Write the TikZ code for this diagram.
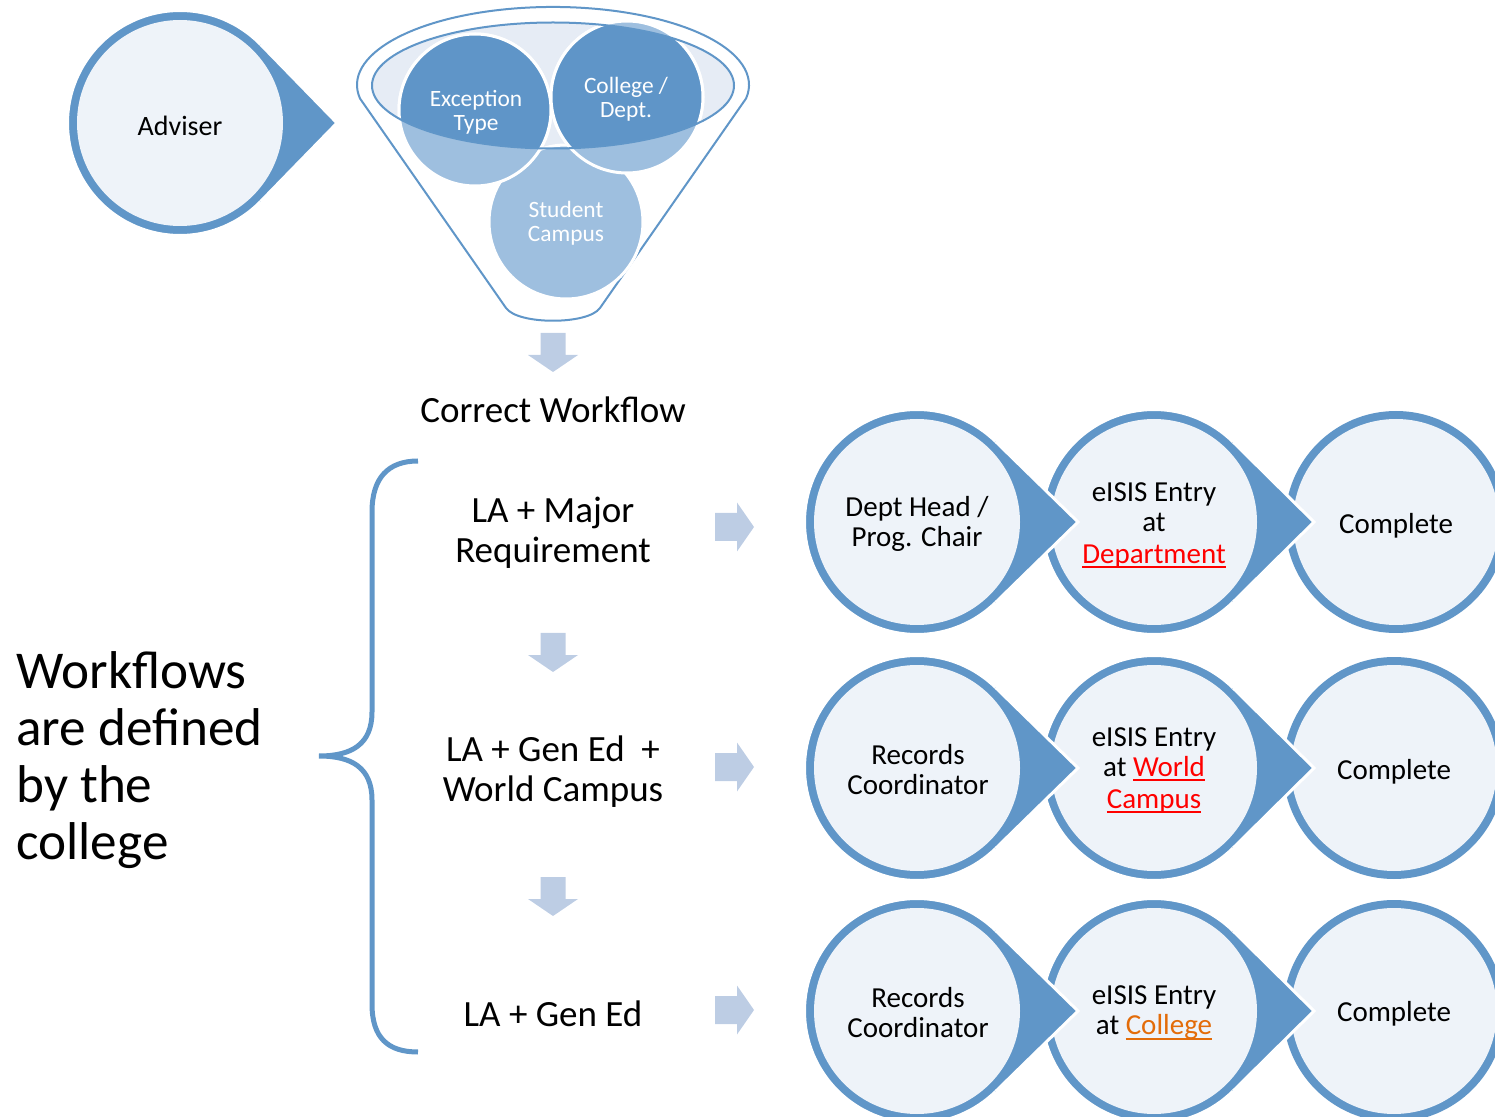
\documentclass[tikz,border=0pt]{standalone}
\usepackage{fontspec}
\setmainfont{Carlito}
\usetikzlibrary{calc}
\definecolor{ring}{HTML}{6096C8}
\definecolor{disc}{HTML}{EEF3F9}
\definecolor{arr}{HTML}{BDCDE4}
\definecolor{fdark}{HTML}{5F95C8}
\definecolor{flight}{HTML}{9EBFDF}
\definecolor{rimfill}{HTML}{E6ECF5}
\definecolor{wfred}{HTML}{FF0000}
\definecolor{wforange}{HTML}{E36C09}
\newcommand\myul[1]{\setbox0\hbox{#1}\rlap{\rule[-2.4pt]{\wd0}{1.1pt}}\box0}
\newcommand\tdrop[4]{%
  \pgfmathsetmacro\tdd{#4-#2}%
  \pgfmathsetmacro\tda{acos(112.5/\tdd)}%
  \coordinate (#1c) at (#2,#3);
  \coordinate (#1t) at (#4,#3);
  \coordinate (#1p) at ($(#1c)+(\tda:112.5)$);
  \coordinate (#1q) at ($(#1c)+(-\tda:112.5)$);
  \fill[ring, draw=white, line width=1.5pt] (#1c) circle[radius=56.25pt];
  \fill[ring] (#1p) -- (#1t) -- (#1q) -- (#1c) -- cycle;
  \draw[white,line width=1.5pt,line join=miter] (#1p) -- (#1t) -- (#1q);
  \fill[disc] (#1c) circle[radius=51.5pt];
}
\newcommand\plaindisc[3]{%
  \coordinate (#1c) at (#2,#3);
  \fill[ring] (#1c) circle[radius=55.5pt];
  \fill[disc] (#1c) circle[radius=51.5pt];
}
\newcommand\downarr[2]{\fill[arr] (#1-12.5,#2) -- ++(25,0) -- ++(0,22) -- ++(12.5,0) -- ++(-25,17) -- ++(-25,-17) -- ++(12.5,0) -- cycle;}
\newcommand\rightarr[2]{\fill[arr] (#1,#2-14) -- ++(22,0) -- ++(0,-10.5) -- ++(17,24.5) -- ++(-17,24.5) -- ++(0,-10.5) -- ++(-22,0) -- cycle;}
\begin{document}
\begin{tikzpicture}[x=0.5pt,y=-0.5pt,
  ptext/.style={font=\fontsize{14.5}{15}\selectfont, align=center, inner sep=0pt, text=black},
  ftext/.style={font=\fontsize{11.7}{12}\selectfont, align=center, inner sep=0pt, text=white},
  mtext/.style={font=\fontsize{18.5}{20}\selectfont, align=center, inner sep=0pt},
  btext/.style={font=\fontsize{26.6}{28.6}\selectfont, align=left, inner sep=0pt}]
\useasboundingbox (0,0) rectangle (1495,1117);
\clip (0,0) rectangle (1495,1117);

% Adviser
\tdrop{adv}{180}{123}{337}
\node[ptext,font=\fontsize{14}{15}\selectfont] (adviser) at (180,126) {Adviser};

% Funnel
\draw[ring, line width=1pt, fill=white] (360,98.5) arc[start angle=190, end angle=-10, x radius=98pt, y radius=39pt] -- (600,308) .. controls (588,325) and (518,325) .. (506,308) -- cycle;
\fill[rimfill] (553,85.5) ellipse[x radius=90.5pt, y radius=31.5pt];
\fill[flight,draw=white,line width=1.5pt] (566,222) circle[radius=38.5pt];
\fill[flight,draw=white,line width=1.5pt] (475,110) circle[radius=38pt];
\fill[flight,draw=white,line width=1.5pt] (627,97) circle[radius=38pt];
\begin{scope}
  \clip (553,85.5) ellipse[x radius=90.5pt, y radius=31.5pt];
  \fill[fdark,draw=white,line width=1.5pt] (475,110) circle[radius=38pt];
  \fill[fdark,draw=white,line width=1.5pt] (627,97) circle[radius=38pt];
\end{scope}
\draw[ring, line width=1pt] (553,85.5) ellipse[x radius=90.5pt, y radius=31.5pt];
\node[ftext] (exc) at (476,112) {Exception\\Type};
\node[ftext] (col) at (626,99) {College /\\Dept.};
\node[ftext] (stu) at (566,223) {Student\\Campus};

\downarr{553}{333}
\node[mtext] (correct) at (553,410) {Correct Workflow};

% Brace
\draw[ring, line width=2.5pt] (418,461) .. controls (388,461) and (372,478) .. (372,512) -- (372,712) .. controls (372,744) and (352,756) .. (319,756) .. controls (352,756) and (372,768) .. (372,800) -- (372,1004) .. controls (372,1038) and (388,1052) .. (418,1052);

\node[btext, anchor=west] (wf) at (16,760) {Workflows\\are defined\\by the\\college};

% Left column
\node[mtext] (la1) at (553,533) {LA + Major\\Requirement};
\downarr{553}{633}
\node[mtext] (la2) at (553,772) {LA + Gen Ed~ +\\World Campus};
\downarr{553}{877}
\node[mtext] (la3) at (553,1014) {LA + Gen Ed};

\rightarr{715}{527}
\rightarr{715}{767}
\rightarr{715}{1010}

% Row 1
\plaindisc{ra3}{1396}{522}
\tdrop{ra2}{1154}{522}{1314}
\tdrop{ra1}{917}{522}{1078}
\node[ptext] (t11) at (917,524) {Dept Head /\\Prog. Chair};
\node[ptext] (t12) at (1154,525) {eISIS Entry\\at\\[1pt]{\color{wfred}\myul{Department}}};
\node[ptext] (t13) at (1396,526) {Complete};

% Row 2
\plaindisc{rb3}{1394}{768}
\tdrop{rb2}{1154}{768}{1314}
\tdrop{rb1}{917}{768}{1078}
\node[ptext] (t21) at (918,770) {Records\\Coordinator};
\node[ptext] (t22) at (1154,770) {eISIS Entry\\at {\color{wfred}\myul{World}}\\[1pt]{\color{wfred}\myul{Campus}}};
\node[ptext] (t23) at (1394,772) {Complete};

% Row 3
\plaindisc{rc3}{1394}{1011}
\tdrop{rc2}{1154}{1011}{1314}
\tdrop{rc1}{917}{1011}{1078}
\node[ptext] (t31) at (918,1013) {Records\\Coordinator};
\node[ptext] (t32) at (1154,1013) {eISIS Entry\\at {\color{wforange}\myul{College}}};
\node[ptext] (t33) at (1394,1014) {Complete};
\end{tikzpicture}
\end{document}
